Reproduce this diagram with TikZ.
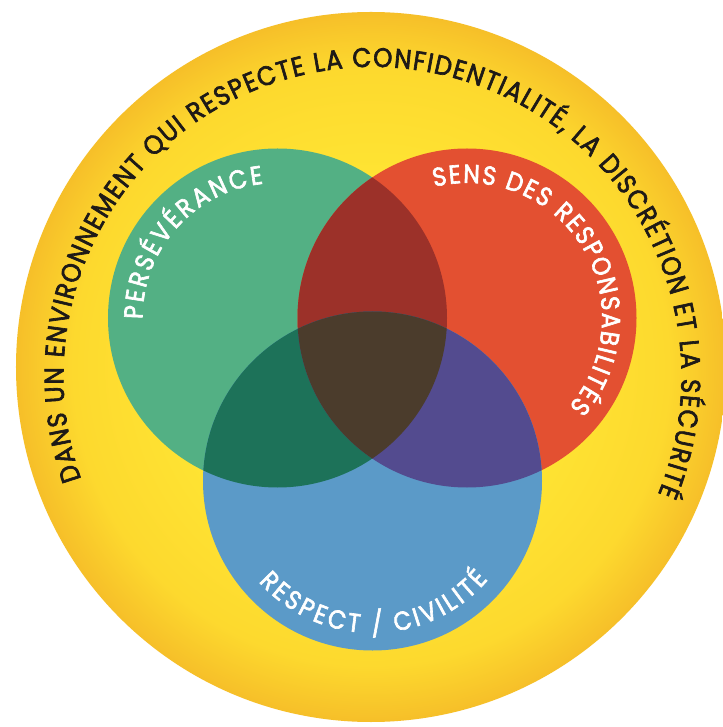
\documentclass[tikz,border=0pt]{standalone}
\usepackage{fontspec}
\setmainfont{Poppins}
\newfontfamily\arcfam{Poppins}[FakeBold=2.4,FakeStretch=0.9]
\usetikzlibrary{decorations.text}
\definecolor{sunA}{HTML}{FFE634}
\definecolor{sunB}{HTML}{FDD92E}
\definecolor{sunC}{HTML}{F6BF29}
\definecolor{vgreen}{HTML}{53B084}
\definecolor{vred}{HTML}{E35031}
\definecolor{vblue}{HTML}{5B9AC8}
\definecolor{vgr}{HTML}{9C3129}
\definecolor{vgb}{HTML}{1D7259}
\definecolor{vrb}{HTML}{534B8F}
\definecolor{vall}{HTML}{4B3C2C}
\definecolor{ink}{HTML}{1E1A17}
\pgfdeclareradialshading{sun}{\pgfpoint{0bp}{0bp}}{color(0bp)=(sunA); color(12bp)=(sunA); color(21bp)=(sunB); color(25bp)=(sunC); color(50bp)=(sunC)}
\tikzset{
  arctext/.style={decorate, decoration={text along path, text align={fit to path}, text color=#1}},
}
\newcommand{\outerfont}{\arcfam\fontsize{27pt}{29pt}\selectfont}
\newcommand{\innerfont}{\arcfam\fontsize{26pt}{28pt}\selectfont}
\begin{document}
\begin{tikzpicture}[x=1pt,y=1pt]
\useasboundingbox (-371pt,-360pt) rectangle (351pt,367pt);
\fill[white] (-371pt,-360pt) rectangle (351pt,367pt);
% outer disc
\shade[shading=sun] (0pt,0pt) circle[radius=355pt];
\coordinate (G) at (-93.5pt,49pt);
\coordinate (R) at (96pt,49pt);
\coordinate (B) at (1.5pt,-114pt);
% Venn circles
\fill[vgreen] (G) circle[radius=169.5pt];
\fill[vred] (R) circle[radius=169.5pt];
\fill[vblue] (B) circle[radius=169.5pt];
\begin{scope}
  \clip (G) circle[radius=169.5pt];
  \fill[vgr] (R) circle[radius=169.5pt];
  \fill[vgb] (B) circle[radius=169.5pt];
\end{scope}
\begin{scope}
  \clip (R) circle[radius=169.5pt];
  \fill[vrb] (B) circle[radius=169.5pt];
\end{scope}
\begin{scope}
  \clip (G) circle[radius=169.5pt];
  \clip (R) circle[radius=169.5pt];
  \fill[vall] (B) circle[radius=169.5pt];
\end{scope}
% outer text
\begin{scope}[shift={(1.5pt,-9pt)}]
  \path[arctext=ink, decoration={text={|\outerfont|DANS UN ENVIRONNEMENT QUI RESPECTE LA CONFIDENTIALITÉ, LA DISCRÉTION ET LA SÉCURITÉ}}]
    (199.5:309pt) arc[start angle=199.5, end angle=-22.5, radius=309pt];
\end{scope}
% inner texts
\begin{scope}[shift={(G)}]
  \path[arctext=white, decoration={text={|\innerfont|PERSÉVÉRANCE}}]
    (180.5:135pt) arc[start angle=180.5, end angle=96, radius=135pt];
\end{scope}
\begin{scope}[shift={(R)}]
  \path[arctext=white, decoration={text={|\innerfont|SENS DES RESPONSABILITÉS}}]
    (104:135pt) arc[start angle=104, end angle=-41, radius=135pt];
\end{scope}
\begin{scope}[shift={(B)}]
  \path[arctext=white, decoration={text={|\innerfont|RESPECT / CIVILITÉ}}]
    (221.5:152pt) arc[start angle=221.5, end angle=319.5, radius=152pt];
\end{scope}
\end{tikzpicture}
\end{document}
